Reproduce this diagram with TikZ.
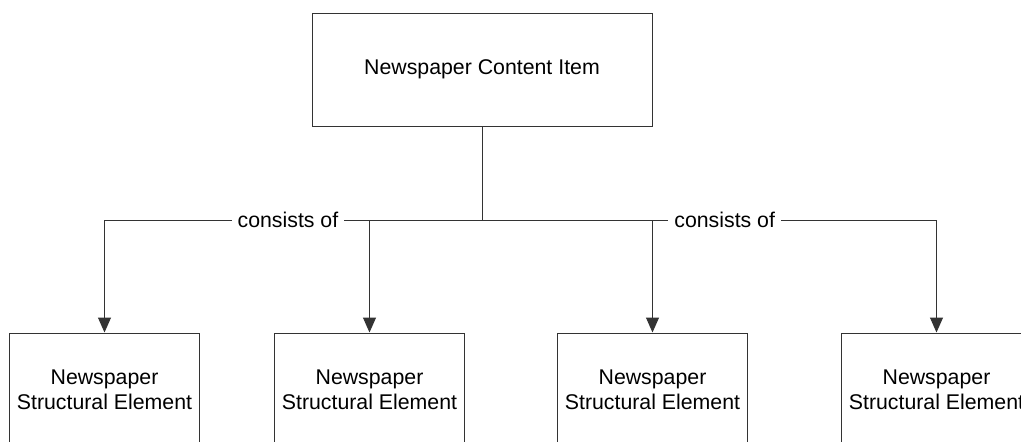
\documentclass[tikz,border=0pt]{standalone}
\usepackage{fontspec}
\setmainfont{Liberation Sans}
\usepackage{tikz}
\usetikzlibrary{arrows.meta,positioning}
\tikzset{
	basic/.style = {draw=black!80, line width=1pt, rectangle, align=center, font=\fontsize{21.3}{25}\selectfont},
	root/.style = {basic, minimum width=340pt, minimum height=113pt},
	element/.style = {basic, minimum width=190pt, minimum height=113pt},
	connect/.style = {draw=black!80, line width=1pt},
	link/.style = {fill=white, inner xsep=6pt, inner ysep=1pt, font=\fontsize{21.3}{25}\selectfont}
}

\begin{document}
\begin{tikzpicture}[x=1pt, y=-1pt, >={Triangle[length=15pt,width=13pt]}]
	\useasboundingbox (0,0) rectangle (1021,442);

	% the content item on top
	\node[root] (item) at (482,69.5) {Newspaper Content Item};
	% the structural elements, one row below
	\node[element] (e1) at (104.5,389.5) {Newspaper\\Structural Element};
	\node[element, right=74pt of e1] (e2) {Newspaper\\Structural Element};
	\node[element, right=92pt of e2] (e3) {Newspaper\\Structural Element};
	\node[element, right=93pt of e3] (e4) {Newspaper\\Structural Element};

	% fork under the content item
	\coordinate (fork) at (482,220);
	\draw[connect] (item.south) -- (fork);
	\draw[connect,->] (fork) -| node[link, pos=0.257] {consists of} (e1.north);
	\draw[connect,->] (fork) -| (e2.north);
	\draw[connect,->] (fork) -| (e3.north);
	\draw[connect,->] (fork) -| node[link, pos=0.267] {consists of} (e4.north);
\end{tikzpicture}
\end{document}
